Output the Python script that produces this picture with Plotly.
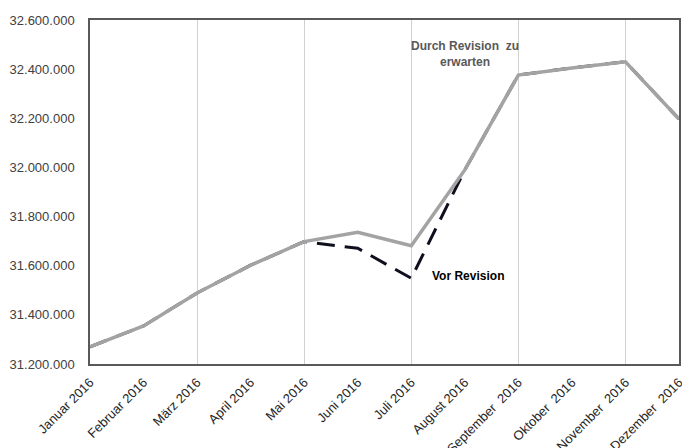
import plotly.graph_objects as go

months = ["Januar 2016", "Februar 2016", "März 2016", "April 2016", "Mai 2016", "Juni 2016",
          "Juli 2016", "August 2016", "September  2016", "Oktober  2016", "November  2016", "Dezember  2016"]
durch_revision = [31270000, 31355000, 31489000, 31602000, 31698000, 31736000,
                  31681000, 31990000, 32376000, 32405000, 32430000, 32197000]
vor_revision = [31270000, 31355000, 31489000, 31602000, 31698000, 31671000,
                31549000, 31990000, 32376000, 32405000, 32430000, 32197000]
grid_months = [2, 4, 6, 8, 10]
y_ticks = [31200000, 31400000, 31600000, 31800000, 32000000, 32200000, 32400000, 32600000]

xs = list(range(len(months)))
font = "Liberation Sans, Arial, sans-serif"

fig = go.Figure()
fig.add_trace(go.Scatter(x=xs, y=vor_revision, mode="lines", name="Vor Revision",
                         line=dict(color="#0f0f1e", width=3, dash="18px,10px")))
fig.add_trace(go.Scatter(x=xs, y=durch_revision, mode="lines", name="Durch Revision",
                         line=dict(color="#a3a3a3", width=3.5)))
fig.add_trace(go.Scatter(x=[xs[0], xs[-1]], y=[None, None], xaxis="x2", showlegend=False,
                         hoverinfo="skip", mode="lines"))

fig.update_layout(
    width=682, height=448,
    margin=dict(l=90, r=3, t=20, b=84),
    paper_bgcolor="white", plot_bgcolor="white",
    showlegend=False,
    separators=",.",
    font=dict(family=font, color="#404040"),
    xaxis=dict(range=[0, 11], tickvals=xs, ticktext=months, tickangle=-45, automargin=False,
               showgrid=False, zeroline=False, showline=True, mirror=True,
               linecolor="#595959", linewidth=1.5, ticks="", ticklabelstandoff=4,
               ticklabeloverflow="allow",
               tickfont=dict(size=13, color="#262626")),
    xaxis2=dict(range=[0, 11], overlaying="x", tickvals=grid_months, showticklabels=False,
                showgrid=True, gridcolor="#d0d0d0", gridwidth=1, zeroline=False, automargin=False,
                showline=False, ticks=""),
    yaxis=dict(range=[31200000, 32600000], tickvals=y_ticks, tickformat=",d", automargin=False,
               showgrid=False, zeroline=False, showline=True, mirror=True,
               linecolor="#595959", linewidth=1.5, ticks="", ticklabelstandoff=11,
               tickfont=dict(size=13, color="#404040")),
    annotations=[
        dict(x=7, y=32462000, xref="x", yref="y", text="Durch Revision  zu<br>erwarten",
             showarrow=False, font=dict(family=font, size=12, color="#595959", weight="bold"),
             align="center"),
        dict(x=6.35, y=31559000, xref="x", yref="y", text="Vor Revision", xanchor="left",
             showarrow=False, font=dict(family=font, size=12, color="#000000", weight="bold")),
    ],
)

fig.write_html("out.html", config={"displayModeBar": False},
               post_script="document.body.style.margin='0';document.body.style.overflow='hidden';")
